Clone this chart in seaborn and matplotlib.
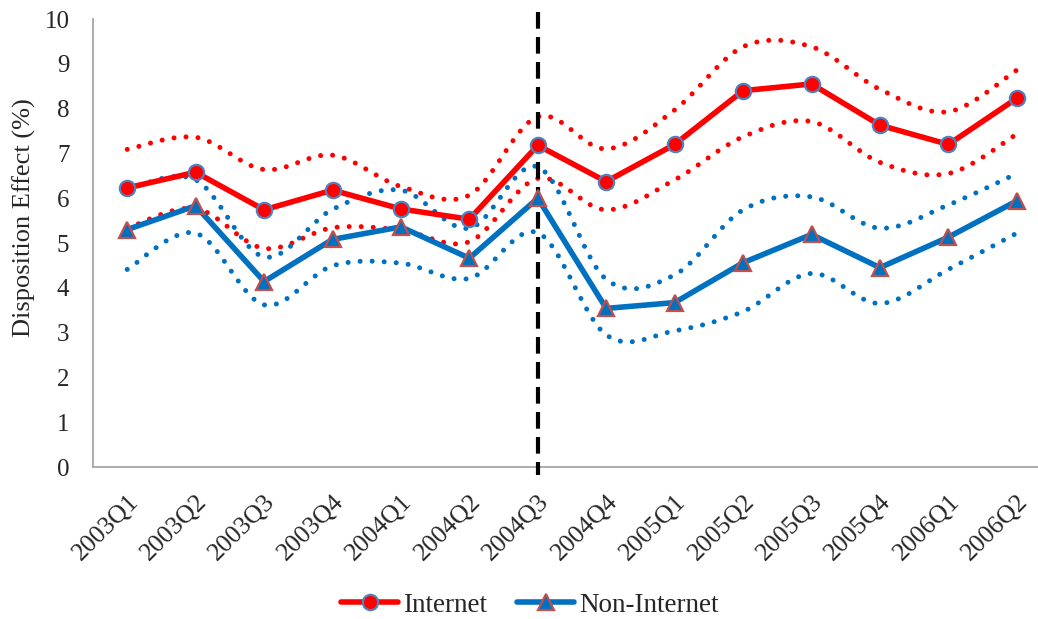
import numpy as np
import pandas as pd
import matplotlib
matplotlib.use("Agg")
import matplotlib.pyplot as plt
from matplotlib.path import Path
from matplotlib.patches import PathPatch
import seaborn as sns

quarters = ["2003Q1", "2003Q2", "2003Q3", "2003Q4", "2004Q1", "2004Q2", "2004Q3",
            "2004Q4", "2005Q1", "2005Q2", "2005Q3", "2005Q4", "2006Q1", "2006Q2"]

internet = [6.23, 6.58, 5.74, 6.18, 5.76, 5.53, 7.18, 6.37, 7.20, 8.40, 8.55, 7.63, 7.20, 8.23]
internet_upper = [7.09, 7.36, 6.64, 6.96, 6.26, 6.07, 7.82, 7.10, 7.97, 9.38, 9.38, 8.43, 7.93, 8.86]
internet_lower = [5.33, 5.77, 4.88, 5.34, 5.29, 5.03, 6.44, 5.74, 6.41, 7.37, 7.71, 6.80, 6.55, 7.43]

non_internet = [5.30, 5.83, 4.14, 5.08, 5.36, 4.66, 6.00, 3.54, 3.67, 4.56, 5.19, 4.45, 5.13, 5.94]
non_internet_upper = [6.20, 6.41, 4.69, 5.75, 6.18, 5.33, 6.70, 4.19, 4.29, 5.74, 6.03, 5.33, 5.85, 6.55]
non_internet_lower = [4.41, 5.22, 3.62, 4.49, 4.55, 4.21, 5.23, 2.95, 3.04, 3.47, 4.32, 3.65, 4.41, 5.22]

event_quarter = "2004Q3"

RED = "#FF0000"
BLUE = "#0070C0"
CIRCLE_EDGE = "#4F81BD"
TRIANGLE_EDGE = "#C0504D"

sns.set_style("white")
plt.rcParams["font.family"] = ["Liberation Serif", "DejaVu Serif"]

fig = plt.figure(figsize=(10.38, 6.19), dpi=100)
# x axis runs a little past the right edge of the canvas
ax = fig.add_axes([93 / 1038, (619 - 467) / 619, 958 / 1038, 448 / 619])

pos = np.arange(len(quarters))


def smooth_path(xs, ys):
    """Smoothed curve through the points using Catmull-Rom style Bezier segments."""
    pts = np.column_stack([xs, ys]).astype(float)
    verts = [pts[0]]
    codes = [Path.MOVETO]
    n = len(pts)
    for i in range(n - 1):
        p0 = pts[i - 1] if i > 0 else pts[i]
        p1 = pts[i]
        p2 = pts[i + 1]
        p3 = pts[i + 2] if i + 2 < n else pts[i + 1]
        c1 = p1 + (p2 - p0) / 6.0
        c2 = p2 - (p3 - p1) / 6.0
        verts += [c1, c2, p2]
        codes += [Path.CURVE4] * 3
    return Path(verts, codes)


# dotted confidence bands
for band, color in [(internet_upper, RED), (internet_lower, RED),
                    (non_internet_upper, BLUE), (non_internet_lower, BLUE)]:
    patch = PathPatch(smooth_path(pos, band), fill=False, edgecolor=color,
                      linewidth=3.6, linestyle=(0, (0.01, 2.4)),
                      capstyle="round", zorder=2)
    ax.add_patch(patch)

# policy change marker
ax.axvline(quarters.index(event_quarter), ymin=1.016, ymax=-0.018, clip_on=False,
           color="black", linewidth=3.0, dashes=(4, 2), zorder=3)

df_int = pd.DataFrame({"pos": pos, "value": internet})
df_non = pd.DataFrame({"pos": pos, "value": non_internet})

sns.lineplot(data=df_int, x="pos", y="value", ax=ax, color=RED, linewidth=4.0,
             marker="o", markersize=11, markerfacecolor=RED,
             markeredgecolor=CIRCLE_EDGE, markeredgewidth=1.6,
             label="Internet", legend=False, zorder=5)
sns.lineplot(data=df_non, x="pos", y="value", ax=ax, color=BLUE, linewidth=4.0,
             marker="^", markersize=11, markerfacecolor=BLUE,
             markeredgecolor=TRIANGLE_EDGE, markeredgewidth=1.6,
             label="Non-Internet", legend=False, zorder=4)

ax.set_xlim(-0.5, len(quarters) - 0.5)
ax.set_ylim(0, 10)
ax.set_yticks(range(0, 11))
ax.set_xticks(pos)
ax.set_xticklabels(quarters, rotation=45, ha="right", va="top",
                   rotation_mode="anchor", fontsize=18.5)
ax.tick_params(axis="y", length=0, pad=17, labelsize=18)
ax.tick_params(axis="x", length=0, pad=17)
ax.set_xlabel("")
ax.set_ylabel("Disposition Effect (%)", fontsize=19)
ax.yaxis.set_label_coords((36 - 93) / 958, 0.556)

for side in ["top", "right"]:
    ax.spines[side].set_visible(False)
for side in ["left", "bottom"]:
    ax.spines[side].set_color("#A6A6A6")
    ax.spines[side].set_linewidth(1.3)

handles, labels = ax.get_legend_handles_labels()
fig.legend(handles, labels, loc="center", bbox_to_anchor=(530 / 1038, (619 - 605) / 619),
           ncol=2, frameon=False, fontsize=19.5, handlelength=2.1,
           handletextpad=0.2, columnspacing=1.1)

fig.savefig("out.png", dpi=100)
